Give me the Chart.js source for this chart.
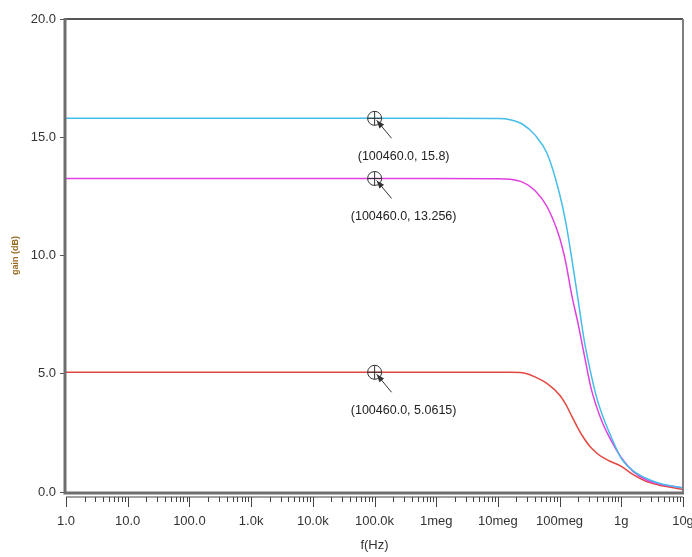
<!DOCTYPE html>
<html lang="en">
<head>
<meta charset="UTF-8">
<title>Gain vs frequency</title>
<script src="https://cdn.jsdelivr.net/npm/chart.js"></script>
<style>
  html, body { margin: 0; padding: 0; background: #fff; }
  #wrap { width: 692px; height: 557px; }
</style>
</head>
<body>
<div id="wrap"><canvas id="gainChart"></canvas></div>
<script>
// frequency (Hz) shared by all three traces, gain (dB)
const freqs = [1, 1e6, 1e7, 1.58e7, 2.51e7, 3.98e7, 6.31e7, 1e8, 1.26e8, 1.58e8, 2e8, 2.51e8, 3.16e8,
               3.98e8, 5.01e8, 6.31e8, 1e9, 1.58e9, 2.51e9, 3.98e9, 6.31e9, 1e10];
const gainCyan = [15.8, 15.8, 15.79, 15.74, 15.55, 15.1, 14.3, 12.6, 11.4, 9.85, 8.1, 6.4, 5.1,
                  4.0, 3.2, 2.55, 1.42, 0.88, 0.58, 0.38, 0.26, 0.17];
const gainMagenta = [13.256, 13.256, 13.25, 13.22, 13.1, 12.75, 12.05, 10.75, 9.7, 8.3, 7.1, 5.8, 4.5,
                     3.6, 2.9, 2.35, 1.45, 0.85, 0.52, 0.35, 0.25, 0.17];
const gainRed = [5.0615, 5.0615, 5.06, 5.06, 5.04, 4.87, 4.58, 4.1, 3.7, 3.2, 2.68, 2.25, 1.9,
                 1.65, 1.46, 1.32, 1.08, 0.72, 0.45, 0.3, 0.2, 0.1];

// decade ticks on the x axis
const xTickValues = [1, 10, 100, 1e3, 1e4, 1e5, 1e6, 1e7, 1e8, 1e9, 1e10];
const xTickLabels = ['1.0', '10.0', '100.0', '1.0k', '10.0k', '100.0k', '1meg', '10meg', '100meg', '1g', '10g'];

// cursor markers
const markerFreq = 100460;
const markerGain = [15.8, 13.256, 5.0615];
const markerLabels = ['(100460.0, 15.8)', '(100460.0, 13.256)', '(100460.0, 5.0615)'];

function toPoints(gs) {
    return freqs.map((f, i) => ({ x: f, y: gs[i] }));
}

// frame, log minor ticks and cursor markers
const plotDecor = {
    id: 'plotDecor',
    afterDraw(chart) {
        const { ctx, chartArea: a, scales: { x, y } } = chart;
        ctx.save();

        // box round the plot
        ctx.strokeStyle = '#555';
        ctx.lineWidth = 2;
        ctx.beginPath();
        ctx.moveTo(a.left, a.top);
        ctx.lineTo(a.right, a.top);
        ctx.stroke();
        ctx.strokeStyle = '#808080';
        ctx.beginPath();
        ctx.moveTo(a.right, a.top);
        ctx.lineTo(a.right, a.bottom);
        ctx.stroke();
        ctx.lineWidth = 3;
        ctx.strokeStyle = '#6e6e6e';
        ctx.beginPath();
        ctx.moveTo(a.left - 1, a.top - 1);
        ctx.lineTo(a.left - 1, a.bottom + 1);
        ctx.lineTo(a.right + 1, a.bottom + 1);
        ctx.stroke();

        // second line under the x axis with log ticks hanging from it
        const base = a.bottom + 5;
        ctx.lineWidth = 1;
        ctx.strokeStyle = '#444';
        ctx.beginPath();
        ctx.moveTo(a.left, base);
        ctx.lineTo(a.right, base);
        for (let d = 0; d <= 10; d++) {
            const px = Math.round(x.getPixelForValue(Math.pow(10, d))) + 0.5;
            ctx.moveTo(px, base);
            ctx.lineTo(px, base + 10);
            if (d < 10) {
                for (let k = 2; k <= 9; k++) {
                    const mx = Math.round(x.getPixelForValue(k * Math.pow(10, d))) + 0.5;
                    ctx.moveTo(mx, base);
                    ctx.lineTo(mx, base + 5);
                }
            }
        }
        ctx.stroke();

        // cursor markers with arrows and readouts
        ctx.font = '12.5px "Liberation Sans", Arial, sans-serif';
        ctx.textAlign = 'center';
        ctx.textBaseline = 'middle';
        markerGain.forEach((g, i) => {
            const px = x.getPixelForValue(markerFreq);
            const py = y.getPixelForValue(g);
            ctx.strokeStyle = '#333';
            ctx.fillStyle = '#333';
            ctx.lineWidth = 1;
            ctx.beginPath();
            ctx.arc(px, py, 7, 0, 2 * Math.PI);
            ctx.moveTo(px - 7, py);
            ctx.lineTo(px + 7, py);
            ctx.moveTo(px, py - 7);
            ctx.lineTo(px, py + 7);
            ctx.stroke();

            const tx = px + 17, ty = py + 20;
            const hx = px + 2, hy = py + 2;
            ctx.beginPath();
            ctx.moveTo(tx, ty);
            ctx.lineTo(hx, hy);
            ctx.stroke();
            const ang = Math.atan2(hy - ty, hx - tx);
            ctx.beginPath();
            ctx.moveTo(hx, hy);
            ctx.lineTo(hx - 8 * Math.cos(ang) + 3 * Math.sin(ang), hy - 8 * Math.sin(ang) - 3 * Math.cos(ang));
            ctx.lineTo(hx - 8 * Math.cos(ang) - 3 * Math.sin(ang), hy - 8 * Math.sin(ang) + 3 * Math.cos(ang));
            ctx.closePath();
            ctx.fill();

            ctx.fillStyle = '#222';
            ctx.fillText(markerLabels[i], px + 29, py + 38);
        });

        ctx.restore();
    }
};

const ctx = document.getElementById('gainChart').getContext('2d');
new Chart(ctx, {
    type: 'line',
    data: {
        datasets: [
            { label: 'cyan', data: toPoints(gainCyan), borderColor: '#45bde8' },
            { label: 'magenta', data: toPoints(gainMagenta), borderColor: '#e040e0' },
            { label: 'red', data: toPoints(gainRed), borderColor: '#e4473f' }
        ]
    },
    options: {
        responsive: true,
        maintainAspectRatio: false,
        animation: false,
        layout: { padding: { top: 19, right: 9, left: 0, bottom: 0 } },
        elements: {
            point: { radius: 0 },
            line: { borderWidth: 1.5, cubicInterpolationMode: 'monotone' }
        },
        plugins: {
            legend: { display: false },
            tooltip: { enabled: false }
        },
        scales: {
            x: {
                type: 'logarithmic',
                min: 1,
                max: 1e10,
                border: { display: false },
                grid: { display: false, drawTicks: false },
                afterBuildTicks: scale => {
                    scale.ticks = xTickValues.map(v => ({ value: v }));
                },
                afterFit: scale => {
                    scale.height = 65;
                    scale.paddingLeft = 0;
                    scale.paddingRight = 0;
                },
                ticks: {
                    autoSkip: false,
                    maxRotation: 0,
                    padding: 22,
                    color: '#333',
                    font: { family: '"Liberation Sans", Arial, sans-serif', size: 13 },
                    callback: (val, idx) => xTickLabels[idx]
                },
                title: {
                    display: true,
                    text: 'f(Hz)',
                    color: '#333',
                    padding: { top: 0, bottom: 4 },
                    font: { family: '"Liberation Sans", Arial, sans-serif', size: 13 }
                }
            },
            y: {
                min: 0,
                max: 20,
                border: { display: false },
                grid: { drawOnChartArea: false, drawTicks: true, tickLength: 6, color: '#555' },
                afterFit: scale => {
                    scale.width = 66;
                    scale.paddingTop = 0;
                    scale.paddingBottom = 0;
                },
                ticks: {
                    stepSize: 5,
                    padding: 4,
                    color: '#333',
                    font: { family: '"Liberation Sans", Arial, sans-serif', size: 13 },
                    callback: v => v.toFixed(1)
                },
                title: {
                    display: true,
                    text: 'gain (dB)',
                    color: '#9a6a22',
                    padding: { top: 10, bottom: 0 },
                    font: { family: '"Liberation Sans", Arial, sans-serif', size: 9, weight: 'bold' }
                }
            }
        }
    },
    plugins: [plotDecor]
});
</script>
</body>
</html>
